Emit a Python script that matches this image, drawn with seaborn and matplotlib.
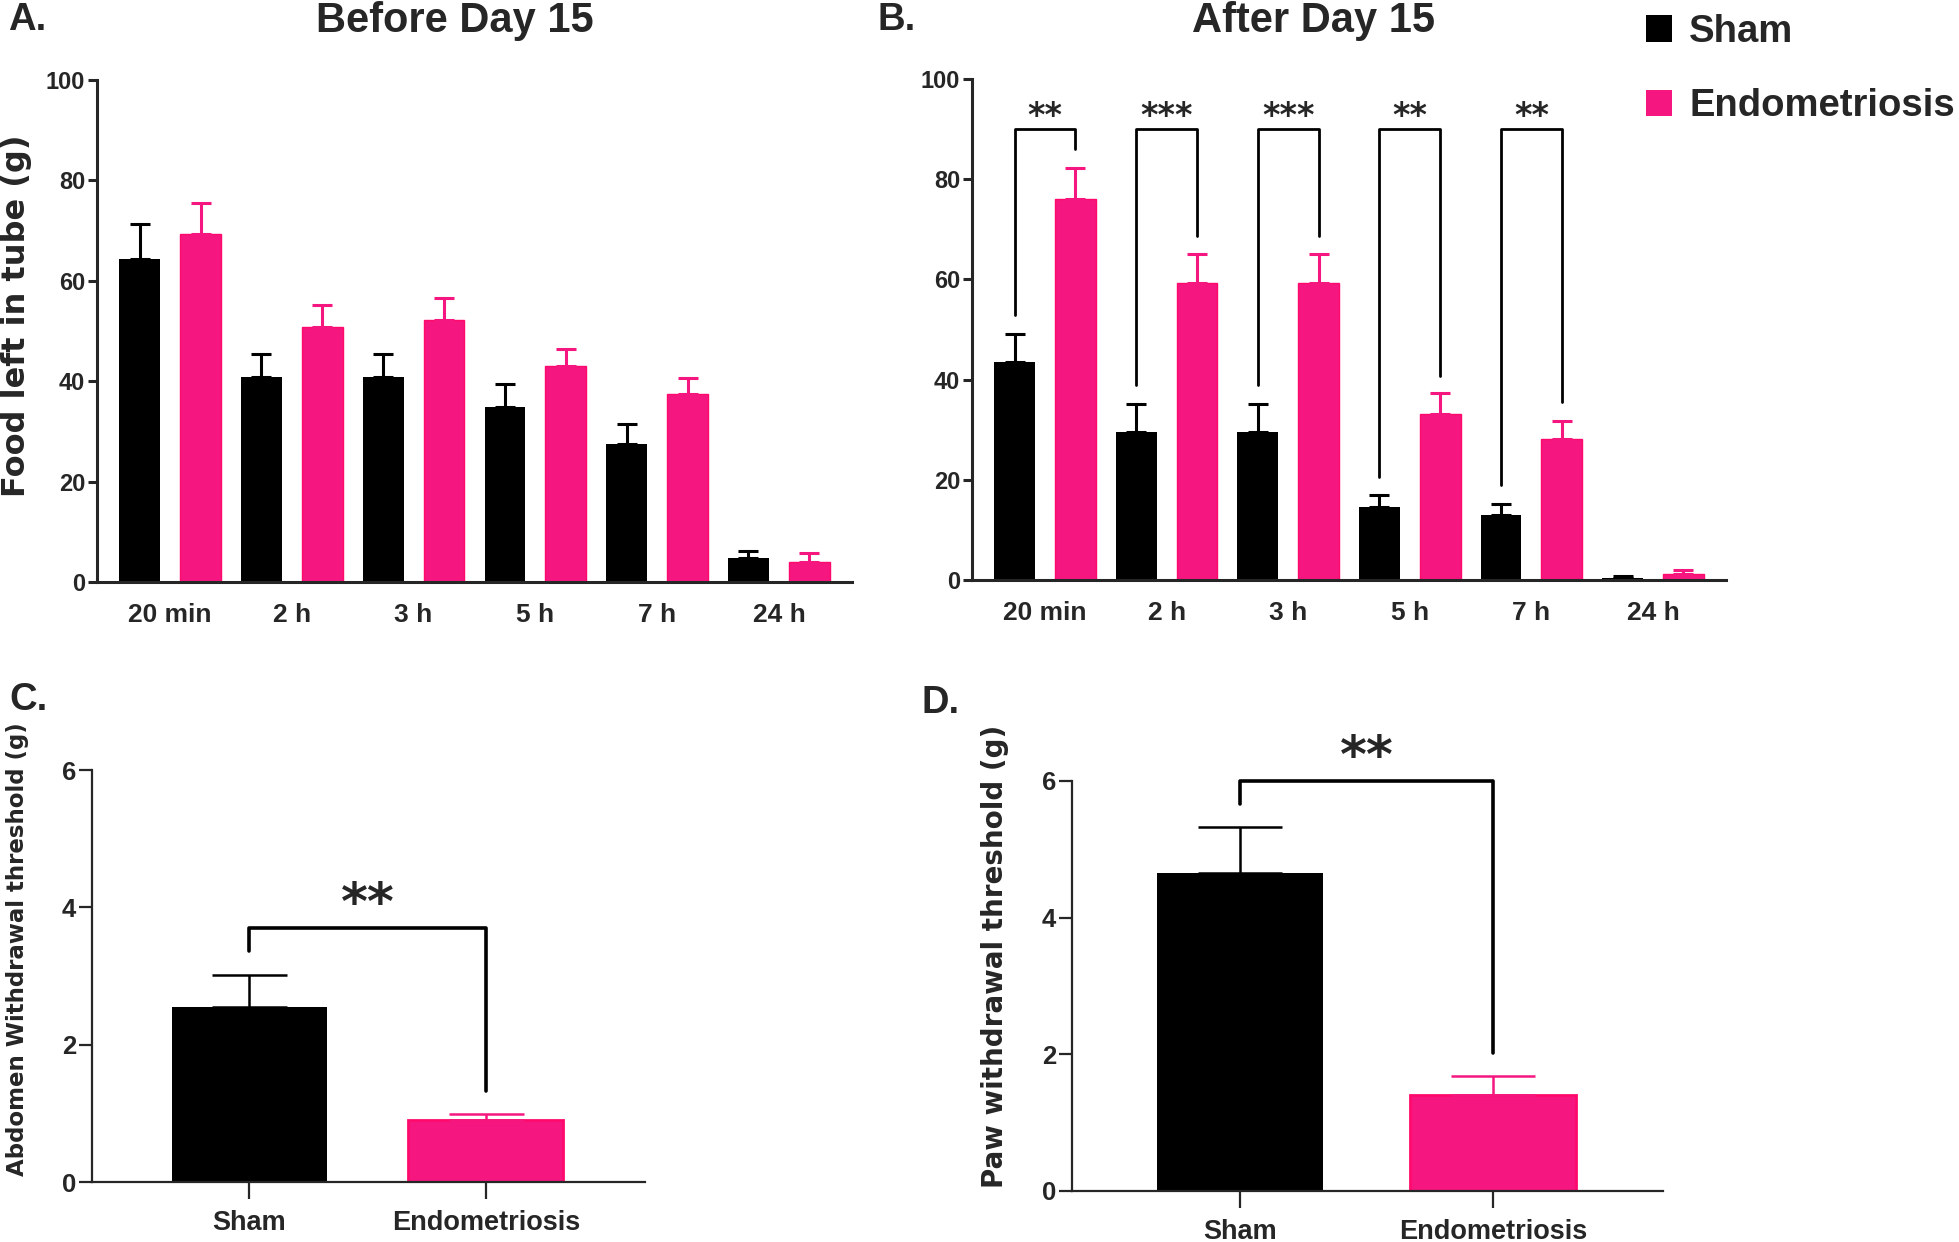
import numpy as np
import pandas as pd
import matplotlib
matplotlib.use("Agg")
import matplotlib.pyplot as plt
from matplotlib.container import BarContainer
import seaborn as sns

# ---------------- data ----------------
times = ["20 min", "2 h", "3 h", "5 h", "7 h", "24 h"]
groups = ["Sham", "Endometriosis"]

a_sham_mean = [64.4, 40.9, 40.9, 34.9, 27.4, 4.8]
a_sham_sem = [7.0, 4.6, 4.6, 4.6, 4.0, 1.3]
a_endo_mean = [69.3, 50.8, 52.2, 43.1, 37.4, 3.9]
a_endo_sem = [6.1, 4.3, 4.3, 3.4, 3.3, 1.8]

b_sham_mean = [43.6, 29.6, 29.6, 14.6, 13.0, 0.4]
b_sham_sem = [5.5, 5.6, 5.6, 2.4, 2.2, 0.3]
b_endo_mean = [76.0, 59.2, 59.2, 33.1, 28.1, 1.1]
b_endo_sem = [6.2, 5.9, 5.9, 4.2, 3.7, 0.8]

b_sig_labels = ["**", "***", "***", "**", "**"]
b_bracket_top = 90
b_left_end = [52.8, 38.9, 38.9, 20.5, 19.0]
b_right_end = [86.1, 68.7, 68.7, 40.8, 35.5]

c_mean = [2.55, 0.91]
c_sem = [0.47, 0.08]
c_bracket = [3.70, 3.36, 1.33]   # top, left end, right end
d_mean = [4.65, 1.40]
d_sem = [0.68, 0.28]
d_bracket = [6.0, 5.66, 2.02]

BLACK = "#000000"
PINK = "#F5177F"
PINK_EDGE = "#FF0A6C"
palette = {"Sham": BLACK, "Endometriosis": PINK}

# ---------------- fonts ----------------
ARIAL = ["Liberation Sans", "DejaVu Sans"]
WIDE = ["DejaVu Sans"]

sns.set_style("ticks")
plt.rcParams["font.family"] = ARIAL
plt.rcParams["font.weight"] = "bold"

W, H = 1959, 1242
fig = plt.figure(figsize=(W / 100, H / 100), dpi=100)


def px_axes(x0, x1, y_top, y_bot):
    return fig.add_axes([x0 / W, 1 - y_bot / H, (x1 - x0) / W, (y_bot - y_top) / H])


axA = px_axes(97, 852, 80, 582)
axB = px_axes(972, 1726, 79, 580)
axC = px_axes(92, 645, 770, 1182)
axD = px_axes(1072, 1663, 781, 1191)


def bar_positions(ax):
    out = {}
    conts = [c for c in ax.containers if isinstance(c, BarContainer)]
    for g, cont in enumerate(conts):
        for p in cont.patches:
            cx = p.get_x() + p.get_width() / 2
            out[(int(round(cx)), g)] = (cx, p.get_height())
    return out


def style_pink(ax, lw):
    for cont in [c for c in ax.containers if isinstance(c, BarContainer)]:
        for p in cont.patches:
            if p.get_facecolor()[0] > 0.5:
                p.set_edgecolor(PINK_EDGE)
                p.set_linewidth(lw)


def grouped(ax, sm, ss, em, es, legend):
    df = pd.DataFrame({
        "time": times * 2,
        "group": ["Sham"] * len(times) + ["Endometriosis"] * len(times),
        "value": sm + em,
    })
    sns.barplot(data=df, x="time", y="value", hue="group", order=times,
                hue_order=groups, palette=palette, width=1.0, gap=0.33,
                saturation=1, errorbar=None, linewidth=0, legend=legend, ax=ax)
    bars = bar_positions(ax)
    style_pink(ax, 1.0)
    for i in range(len(times)):
        for g, (sem, col) in enumerate([(ss[i], BLACK), (es[i], PINK)]):
            cx, h = bars[(i, g)]
            ax.errorbar(cx, h, yerr=[[0], [sem]], fmt="none", ecolor=col,
                        elinewidth=2.2, capsize=7.5, capthick=2.2, zorder=1)
    ax.set_xlim(-0.6, 5.6)
    ax.set_ylim(0, 100)
    ax.set_yticks([0, 20, 40, 60, 80, 100])
    ax.set_xlabel("")
    ax.set_ylabel("")
    sns.despine(ax=ax)
    for s in ["left", "bottom"]:
        ax.spines[s].set_linewidth(2.2)
    ax.tick_params(axis="y", length=6.5, width=2.2, pad=2, labelsize=17)
    ax.tick_params(axis="x", length=0, pad=15, labelsize=19)
    return bars


grouped(axA, a_sham_mean, a_sham_sem, a_endo_mean, a_endo_sem, False)
barsB = grouped(axB, b_sham_mean, b_sham_sem, b_endo_mean, b_endo_sem, True)

axA.set_ylabel("Food left in tube (g)", family=WIDE, fontsize=23, fontweight="bold")
axA.yaxis.label.set_va("center")
axA.yaxis.set_label_coords(-0.106, 0.53)

# significance brackets in B
for i, lab in enumerate(b_sig_labels):
    x0 = barsB[(i, 0)][0]
    x1 = barsB[(i, 1)][0]
    axB.plot([x0, x0, x1, x1], [b_left_end[i], b_bracket_top, b_bracket_top, b_right_end[i]],
             color="black", lw=2.0, clip_on=False)
    axB.text((x0 + x1) / 2, 92.6, lab, ha="center", va="center",
             family=WIDE, fontweight="bold", fontsize=24)

# legend
leg = axB.get_legend()
handles = leg.legend_handles
labels = [t.get_text() for t in leg.get_texts()]
leg.remove()
axB.legend(handles, labels, loc="upper left", bbox_to_anchor=(1646 / W, 1 - 14 / H),
           bbox_transform=fig.transFigure, frameon=False,
           prop={"family": ARIAL, "weight": "bold", "size": 27.5},
           handlelength=0.68, handleheight=0.68, labelspacing=1.0,
           handletextpad=0.45, borderpad=0, borderaxespad=0)


def simple(ax, means, sems, bracket, ylabel, label_xy, cap, star_y, ylabel_size):
    df = pd.DataFrame({"group": groups, "value": means})
    sns.barplot(data=df, x="group", y="value", hue="group", order=groups,
                hue_order=groups, palette=palette, width=0.656, saturation=1,
                errorbar=None, linewidth=0, legend=False, ax=ax)
    centers = {}
    for cont in [c for c in ax.containers if isinstance(c, BarContainer)]:
        for p in cont.patches:
            cx = p.get_x() + p.get_width() / 2
            centers[int(round(cx))] = (cx, p.get_height())
    style_pink(ax, 2.0)
    for i, (sem, col) in enumerate(zip(sems, [BLACK, PINK])):
        cx, h = centers[i]
        ax.errorbar(cx, h, yerr=[[0], [sem]], fmt="none", ecolor=col,
                    elinewidth=1.8, capsize=cap, capthick=1.8, zorder=1)
    x0, x1 = centers[0][0], centers[1][0]
    ax.plot([x0, x0, x1, x1], [bracket[1], bracket[0], bracket[0], bracket[2]],
            color="black", lw=2.6, clip_on=False)
    ax.text((x0 + x1) / 2, star_y, "**", ha="center", va="center",
            family=WIDE, fontweight="bold", fontsize=37, clip_on=False)
    ax.set_xlim(-0.665, 1.673)
    ax.set_ylim(0, 6)
    ax.set_yticks([0, 2, 4, 6])
    ax.set_xlabel("")
    sns.despine(ax=ax)
    for s in ["left", "bottom"]:
        ax.spines[s].set_linewidth(1.6)
    ax.tick_params(axis="y", length=9.5, width=1.6, pad=2, labelsize=18.5)
    ax.tick_params(axis="x", length=12, width=1.6, pad=8, labelsize=19.5)
    ax.set_ylabel(ylabel, family=WIDE, fontsize=ylabel_size, fontweight="bold")
    ax.yaxis.label.set_va("center")
    ax.yaxis.set_label_coords(*label_xy)


simple(axC, c_mean, c_sem, c_bracket, "Abdomen Withdrawal threshold (g)",
       (-0.135, 0.565), 27, 4.03, 16.5)
simple(axD, d_mean, d_sem, d_bracket, "Paw withdrawal threshold (g)",
       (-0.131, 0.573), 30, 6.33, 20)

# titles and panel letters
tkw = dict(family=ARIAL, fontweight="bold", va="center")
fig.text(8 / W, 1 - 20 / H, "A.", ha="left", fontsize=27.5, **tkw)
fig.text(878 / W, 1 - 20 / H, "B.", ha="left", fontsize=27.5, **tkw)
fig.text(9 / W, 1 - 700 / H, "C.", ha="left", fontsize=27.5, **tkw)
fig.text(922 / W, 1 - 703 / H, "D.", ha="left", fontsize=27.5, **tkw)
fig.text(455 / W, 1 - 21 / H, "Before Day 15", ha="center", fontsize=30, **tkw)
fig.text(1314 / W, 1 - 21 / H, "After Day 15", ha="center", fontsize=30, **tkw)

fig.savefig("out.png", dpi=100)
